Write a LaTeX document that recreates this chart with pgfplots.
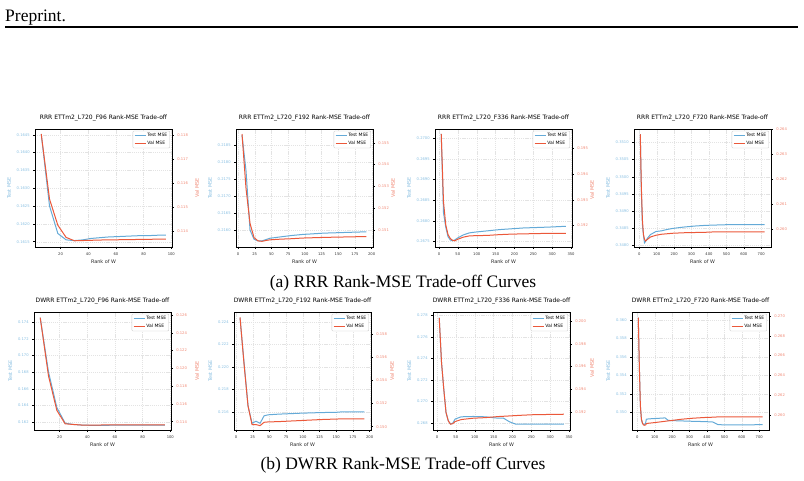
\documentclass[border=0pt]{standalone}
\usepackage{pgfplots}
\pgfplotsset{compat=1.18}
\usepackage{fontspec}
\setmainfont{Liberation Serif}
\newfontfamily\plotfont{DejaVu Sans}
\newcommand\tickfont{\plotfont\fontsize{3.7}{4.2}\selectfont}
\newcommand\labelfont{\plotfont\fontsize{4.9}{5.5}\selectfont}
\newcommand\titlefont{\plotfont\fontsize{6}{7}\selectfont}
\newcommand\legfont{\plotfont\fontsize{4.5}{5}\selectfont}
\definecolor{testc}{RGB}{100,170,215}
\definecolor{valc}{RGB}{235,88,58}
\definecolor{testl}{RGB}{135,190,225}
\definecolor{vall}{RGB}{240,135,115}
\pgfplotsset{
  base/.style={scale only axis, width=137pt, height=118pt, anchor=north west,
    axis line style={line width=0.9pt, black},
    tick style={black, line width=0.35pt}, tick align=outside, major tick length=1.8pt,
    /pgf/number format/assume math mode=true,
    tick label style={font=\tickfont},
    scaled ticks=false,
    /pgf/number format/fixed, /pgf/number format/fixed zerofill,
    label style={font=\labelfont},
  },
  leftax/.style={base, xtick pos=bottom, ytick pos=left,
    grid=major, major grid style={line width=0.3pt, gray!22, dash pattern=on 1.2pt off 0.9pt},
    xlabel={Rank of W}, ylabel={Test MSE},
    xticklabel style={color=black!80, /pgf/number format/precision=0},
    yticklabel style={color=testl, /pgf/number format/precision=#1},
    ylabel style={color=testl, yshift=-1pt},
    xlabel style={yshift=2pt, color=black!85},
    title style={font=\titlefont, yshift=-1.5pt},
  },
  rightax/.style={base, axis y line*=right, axis x line=none,
    yticklabel style={color=vall, /pgf/number format/precision=3},
    legend style={at={(0.985,0.985)}, anchor=north east, font=\legfont,
      draw=gray!40, rounded corners=1pt, inner sep=1.2pt, row sep=-0.3pt,
      nodes={inner sep=1.3pt}},
    legend cell align=left,
    legend image code/.code={\draw[##1] (0pt,0pt) -- (11pt,0pt);},
  },
  testline/.style={testc, line width=1pt},
  valline/.style={valc, line width=1pt},
}
\newcommand\vallab[2]{\node[rotate=90, font=\labelfont, text=vall, inner sep=0pt] at (#1pt,-#2pt) {Val MSE};}
\begin{document}
\begin{tikzpicture}
\path[use as bounding box] (0pt,0pt) rectangle (804pt,-480pt);
\node[anchor=base west, font=\fontsize{17.5}{20}\selectfont, inner sep=0pt] at (5pt,-21pt) {Preprint.};
\draw[line width=1.2pt] (5pt,-27pt) -- (798pt,-27pt);

% ---------- S1 RRR F96
\begin{axis}[leftax=4, at={(35pt,-129pt)}, xmin=1.5, xmax=100.5, ymin=0.16135, ymax=0.16466,
  xtick={20,40,60,80,100}, ytick={0.1615,0.1620,0.1625,0.1630,0.1635,0.1640,0.1645},
  title={RRR ETTm2\_L720\_F96 Rank-MSE Trade-off}]
\addplot[testline] coordinates {(6,0.16452)(12,0.16250)(18,0.16173)(24,0.16155)(30,0.16153)(36,0.16155)(42,0.16159)(48,0.16161)(54,0.16163)(60,0.16164)(66,0.16165)(72,0.16166)(78,0.16167)(84,0.16167)(90,0.16168)(96,0.16168)};
\end{axis}
\begin{axis}[rightax, at={(35pt,-129pt)}, xmin=1.5, xmax=100.5, ymin=0.11332, ymax=0.11825,
  ytick={0.114,0.115,0.116,0.117,0.118}]
\addlegendimage{testline}\addlegendentry{Test MSE}
\addplot[valline] coordinates {(6,0.11804)(12,0.11532)(18,0.11423)(24,0.11372)(30,0.11358)(36,0.11359)(42,0.11360)(48,0.11361)(54,0.11362)(60,0.11362)(66,0.11363)(72,0.11363)(78,0.11364)(84,0.11364)(90,0.11365)(96,0.11365)};
\addlegendentry{Val MSE}
\end{axis}
\vallab{197}{188}

% ---------- S2 RRR F192
\begin{axis}[leftax=4, at={(236pt,-129pt)}, xmin=-3, xmax=202, ymin=0.2155, ymax=0.21899,
  xtick={0,25,50,75,100,125,150,175,200}, ytick={0.2160,0.2165,0.2170,0.2175,0.2180,0.2185},
  title={RRR ETTm2\_L720\_F192 Rank-MSE Trade-off}]
\addplot[testline] coordinates {(6,0.21881)(12,0.21775)(18,0.21600)(24,0.21573)(30,0.21568)(36,0.21568)(42,0.21572)(48,0.21576)(64,0.21580)(80,0.21584)(96,0.21587)(128,0.21591)(160,0.21593)(192,0.21595)};
\end{axis}
\begin{axis}[rightax, at={(236pt,-129pt)}, xmin=-3, xmax=202, ymin=0.15022, ymax=0.15563,
  ytick={0.151,0.152,0.153,0.154,0.155}]
\addlegendimage{testline}\addlegendentry{Test MSE}
\addplot[valline] coordinates {(6,0.15540)(12,0.15290)(18,0.15130)(24,0.15065)(30,0.15050)(36,0.15048)(42,0.15052)(48,0.15055)(64,0.15058)(80,0.15060)(96,0.15063)(128,0.15066)(160,0.15068)(192,0.15070)};
\addlegendentry{Val MSE}
\end{axis}
\vallab{393}{188}

% ---------- S3 RRR F336
\begin{axis}[leftax=4, at={(435pt,-129pt)}, xmin=-10.5, xmax=352.5, ymin=0.26737, ymax=0.27022,
  xtick={0,50,100,150,200,250,300,350}, ytick={0.2675,0.2680,0.2685,0.2690,0.2695,0.2700},
  title={RRR ETTm2\_L720\_F336 Rank-MSE Trade-off}]
\addplot[testline] coordinates {(6,0.27010)(12,0.26820)(18,0.26785)(24,0.26762)(30,0.26754)(36,0.26752)(42,0.26754)(48,0.26758)(64,0.26766)(80,0.26771)(96,0.26773)(128,0.26776)(160,0.26779)(192,0.26781)(224,0.26783)(256,0.26784)(288,0.26785)(336,0.26787)};
\end{axis}
\begin{axis}[rightax, at={(435pt,-129pt)}, xmin=-10.5, xmax=352.5, ymin=0.19117, ymax=0.19575,
  ytick={0.192,0.193,0.194,0.195}]
\addlegendimage{testline}\addlegendentry{Test MSE}
\addplot[valline] coordinates {(6,0.19556)(12,0.19293)(18,0.19203)(24,0.19165)(30,0.19150)(36,0.19143)(42,0.19141)(48,0.19146)(64,0.19155)(80,0.19160)(96,0.19161)(128,0.19162)(160,0.19165)(192,0.19167)(224,0.19168)(256,0.19169)(288,0.19170)(336,0.19170)};
\addlegendentry{Val MSE}
\end{axis}

% ---------- S4 RRR F720
\begin{axis}[leftax=4, at={(634pt,-129pt)}, xmin=-30, xmax=756, ymin=0.34796, ymax=0.35139,
  xtick={0,100,200,300,400,500,600,700}, ytick={0.3480,0.3485,0.3490,0.3495,0.3500,0.3505,0.3510},
  title={RRR ETTm2\_L720\_F720 Rank-MSE Trade-off}]
\addplot[testline] coordinates {(6,0.35124)(12,0.34959)(18,0.34862)(24,0.34832)(30,0.34808)(36,0.34812)(48,0.34822)(64,0.34832)(96,0.34841)(128,0.34843)(160,0.34847)(192,0.34850)(256,0.34854)(320,0.34857)(384,0.34859)(448,0.34860)(512,0.34861)(576,0.34861)(640,0.34861)(720,0.34861)};
\end{axis}
\begin{axis}[rightax, at={(634pt,-129pt)}, xmin=-30, xmax=756, ymin=0.25929, ymax=0.26401,
  ytick={0.260,0.261,0.262,0.263,0.264}]
\addlegendimage{testline}\addlegendentry{Test MSE}
\addplot[valline] coordinates {(6,0.26380)(12,0.26173)(18,0.26040)(24,0.25980)(30,0.25960)(36,0.25953)(48,0.25960)(64,0.25969)(96,0.25976)(128,0.25980)(160,0.25982)(192,0.25984)(256,0.25986)(320,0.25987)(384,0.25988)(448,0.25990)(512,0.25990)(576,0.25990)(640,0.25990)(720,0.25990)};
\addlegendentry{Val MSE}
\end{axis}
\vallab{592}{190}

\node[font=\fontsize{17.5}{20}\selectfont, inner sep=0pt] at (403pt,-283pt) {(a) RRR Rank-MSE Trade-off Curves};

% ---------- S5 DWRR F96
\begin{axis}[leftax=3, at={(34pt,-312pt)}, xmin=1.5, xmax=100.5, ymin=0.16103, ymax=0.17525,
  xtick={20,40,60,80,100}, ytick={0.162,0.164,0.166,0.168,0.170,0.172,0.174},
  title={DWRR ETTm2\_L720\_F96 Rank-MSE Trade-off}]
\addplot[testline] coordinates {(6,0.17456)(12,0.16800)(18,0.16375)(24,0.16185)(30,0.16170)(36,0.16162)(42,0.16160)(48,0.16160)(54,0.16160)(60,0.16161)(66,0.16161)(72,0.16161)(78,0.16161)(84,0.16161)(90,0.16161)(96,0.16161)};
\end{axis}
\begin{axis}[rightax, at={(34pt,-312pt)}, xmin=1.5, xmax=100.5, ymin=0.11306, ymax=0.12634,
  ytick={0.114,0.116,0.118,0.120,0.122,0.124,0.126}]
\addlegendimage{testline}\addlegendentry{Test MSE}
\addplot[valline] coordinates {(6,0.12570)(12,0.11913)(18,0.11527)(24,0.11376)(30,0.11368)(36,0.11362)(42,0.11362)(48,0.11362)(54,0.11363)(60,0.11363)(66,0.11363)(72,0.11364)(78,0.11364)(84,0.11364)(90,0.11364)(96,0.11364)};
\addlegendentry{Val MSE}
\end{axis}
\vallab{197}{371}

% ---------- S6 DWRR F192
\begin{axis}[leftax=3, at={(234pt,-312pt)}, xmin=-3, xmax=202, ymin=0.21439, ymax=0.22487,
  xtick={0,25,50,75,100,125,150,175,200}, ytick={0.216,0.218,0.220,0.222,0.224},
  title={DWRR ETTm2\_L720\_F192 Rank-MSE Trade-off}]
\addplot[testline] coordinates {(6,0.22436)(12,0.22040)(18,0.21654)(24,0.21499)(30,0.21517)(36,0.21499)(42,0.21565)(48,0.21574)(64,0.21580)(96,0.21588)(128,0.21594)(150,0.21596)(160,0.21601)(192,0.21601)};
\end{axis}
\begin{axis}[rightax, at={(234pt,-312pt)}, xmin=-3, xmax=202, ymin=0.14971, ymax=0.15996,
  ytick={0.150,0.152,0.154,0.156,0.158}]
\addlegendimage{testline}\addlegendentry{Test MSE}
\addplot[valline] coordinates {(6,0.15950)(12,0.15545)(18,0.15179)(24,0.15018)(30,0.15018)(36,0.15009)(42,0.15038)(48,0.15041)(64,0.15044)(96,0.15053)(128,0.15062)(160,0.15068)(192,0.15068)};
\addlegendentry{Val MSE}
\end{axis}
\vallab{392}{371}

% ---------- S7 DWRR F336
\begin{axis}[leftax=3, at={(433pt,-312pt)}, xmin=-10.5, xmax=352.5, ymin=0.26738, ymax=0.27828,
  xtick={0,50,100,150,200,250,300,350}, ytick={0.268,0.270,0.272,0.274,0.276,0.278},
  title={DWRR ETTm2\_L720\_F336 Rank-MSE Trade-off}]
\addplot[testline] coordinates {(6,0.27775)(12,0.27366)(18,0.27118)(24,0.26900)(30,0.26823)(36,0.26793)(42,0.26802)(48,0.26839)(64,0.26860)(96,0.26863)(128,0.26860)(160,0.26848)(176,0.26848)(192,0.26814)(208,0.26793)(224,0.26793)(256,0.26793)(336,0.26793)};
\end{axis}
\begin{axis}[rightax, at={(433pt,-312pt)}, xmin=-10.5, xmax=352.5, ymin=0.1904, ymax=0.2008,
  ytick={0.192,0.194,0.196,0.198,0.200}]
\addlegendimage{testline}\addlegendentry{Test MSE}
\addplot[valline] coordinates {(6,0.20029)(12,0.19638)(18,0.19402)(24,0.19194)(30,0.19120)(36,0.19091)(42,0.19096)(48,0.19114)(64,0.19132)(96,0.19144)(128,0.19149)(160,0.19158)(192,0.19164)(224,0.19170)(256,0.19175)(336,0.19179)};
\addlegendentry{Val MSE}
\end{axis}

% ---------- S8 DWRR F720
\begin{axis}[leftax=3, at={(632pt,-312pt)}, xmin=-30, xmax=756, ymin=0.34811, ymax=0.36087,
  xtick={0,100,200,300,400,500,600,700}, ytick={0.350,0.352,0.354,0.356,0.358,0.360},
  title={DWRR ETTm2\_L720\_F720 Rank-MSE Trade-off}]
\addplot[testline] coordinates {(6,0.36025)(12,0.35510)(18,0.35073)(24,0.34927)(30,0.34884)(36,0.34873)(42,0.34873)(48,0.34884)(52,0.34927)(64,0.34931)(96,0.34935)(128,0.34938)(160,0.34942)(176,0.34917)(192,0.34913)(256,0.34909)(320,0.34905)(384,0.34902)(432,0.34898)(448,0.34884)(464,0.34869)(512,0.34866)(576,0.34866)(640,0.34867)(720,0.34869)};
\end{axis}
\begin{axis}[rightax, at={(632pt,-312pt)}, xmin=-30, xmax=756, ymin=0.2585, ymax=0.2704,
  ytick={0.260,0.262,0.264,0.266,0.268,0.270}]
\addlegendimage{testline}\addlegendentry{Test MSE}
\addplot[valline] coordinates {(6,0.26983)(12,0.26501)(18,0.26094)(24,0.25959)(30,0.25918)(36,0.25901)(42,0.25898)(48,0.25901)(52,0.25914)(64,0.25918)(96,0.25924)(128,0.25931)(192,0.25945)(256,0.25959)(320,0.25969)(384,0.25976)(448,0.25980)(464,0.25983)(512,0.25983)(720,0.25983)};
\addlegendentry{Val MSE}
\end{axis}
\vallab{592}{368}

\node[font=\fontsize{17.5}{20}\selectfont, inner sep=0pt] at (403pt,-465pt) {(b) DWRR Rank-MSE Trade-off Curves};
\end{tikzpicture}
\end{document}
